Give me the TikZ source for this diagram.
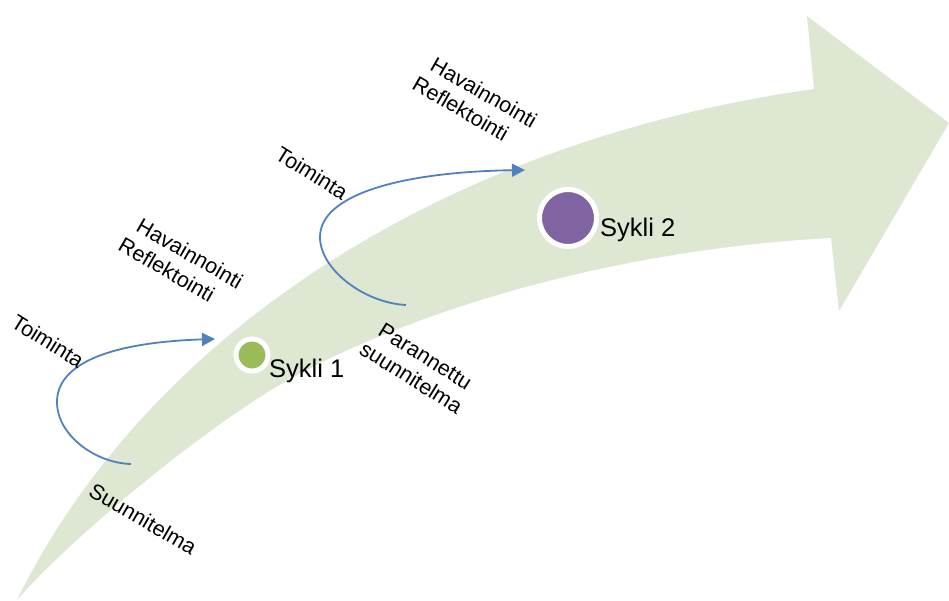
\documentclass[tikz,border=0pt]{standalone}
\usepackage{fontspec}
\setmainfont{Liberation Sans}
\usetikzlibrary{arrows.meta}

\definecolor{bandgreen}{RGB}{222,231,210}
\definecolor{cycleblue}{RGB}{79,129,189}
\definecolor{dotgreen}{RGB}{155,187,89}
\definecolor{dotpurple}{RGB}{128,100,162}

\tikzstyle{dot} = [circle, draw=white, line width=5pt, inner sep=0pt]
\tikzstyle{line} = [draw=cycleblue, line width=1.8pt, -{Triangle[length=13pt,width=13pt]}]
\tikzstyle{phase} = [font=\fontsize{21.5}{25.5}\selectfont, align=left, inner sep=0pt]
\tikzstyle{cycle} = [font=\fontsize{25.5}{28}\selectfont, anchor=base west, inner sep=0pt]

\begin{document}
\begin{tikzpicture}[x=1pt, y=1pt]

	\useasboundingbox (0,0) rectangle (949,600);

	% Big arrow
	\fill[bandgreen] (17,0) .. controls (150,270) and (450,460) .. (814,511) -- (807,584) -- (949,477) -- (839,289) -- (831,362)
		.. controls (600,350) and (380,280) .. (260,203) .. controls (170,145) and (60,50) .. cycle;

	% Cycle 1
	\coordinate (plan1) at (131,136);
	\coordinate (obs1) at (215,261);
	\path[line] (plan1) .. controls (95,137) and (57,165) .. (57,198) .. controls (57,240) and (120,258) .. (obs1);
	\node[phase, rotate=-30] (suun1) at (143,81) {Suunnitelma};
	\node[phase, rotate=-32] (toim1) at (48,259) {Toiminta};
	\node[phase, rotate=-30] (hav1) at (181,337) {\hspace{6pt}Havainnointi\\Reflektointi};
	\node[dot, fill=dotgreen, minimum size=32pt] (dot1) at (252,245) {};
	\node[cycle] (sykli1) at (269,223) {Sykli 1};

	% Cycle 2
	\coordinate (plan2) at (406,295);
	\coordinate (obs2) at (525,430);
	\path[line] (plan2) .. controls (365,297) and (320,330) .. (320,363) .. controls (320,405) and (400,428) .. (obs2);
	\node[phase, rotate=-32] (par2) at (418,233) {\hspace{6pt}Parannettu\\suunnitelma};
	\node[phase, rotate=-32] (toim2) at (312,427) {Toiminta};
	\node[phase, rotate=-30] (hav2) at (475,498) {\hspace{6pt}Havainnointi\\Reflektointi};
	\node[dot, fill=dotpurple, minimum size=57pt] (dot2) at (568,382) {};
	\node[cycle] (sykli2) at (600,363) {Sykli 2};

\end{tikzpicture}
\end{document}
